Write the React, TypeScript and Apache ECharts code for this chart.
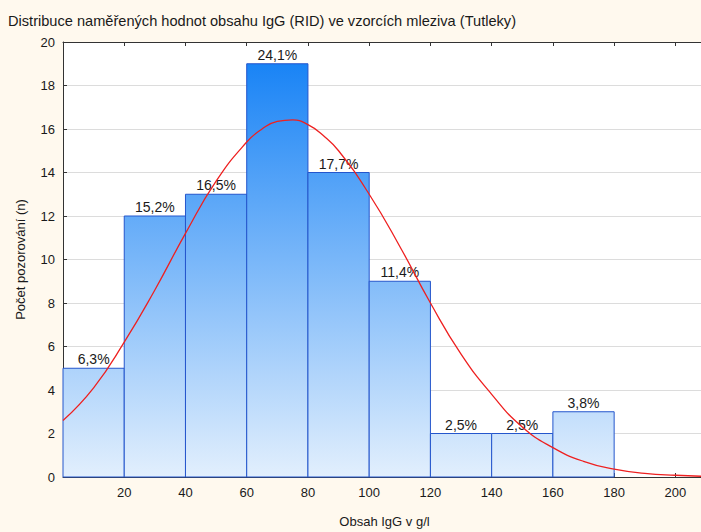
import React, { useEffect, useRef } from "react";
import * as echarts from "echarts";

const titleText = "Distribuce naměřených hodnot obsahu IgG (RID) ve vzorcích mleziva (Tutleky)";
const xTitle = "Obsah IgG v g/l";
const yTitle = "Počet pozorování (n)";

const binStarts = [0, 20, 40, 60, 80, 100, 120, 140, 160];
const binEnds = [20, 40, 60, 80, 100, 120, 140, 160, 180];
const counts = [5, 12, 13, 19, 14, 9, 2, 2, 3];
const percentLabels = ["6,3%", "15,2%", "16,5%", "24,1%", "17,7%", "11,4%", "2,5%", "2,5%", "3,8%"];

const curveX = [0, 10, 20, 30, 40, 50, 60, 65, 70, 75, 80, 85, 90, 100, 110, 120, 130, 140, 150, 160, 170, 180, 190, 200, 210];
const curveY = [2.6, 4.1, 6.2, 8.6, 11.2, 13.6, 15.4, 16.0, 16.35, 16.42, 16.2, 15.7, 15.0, 13.0, 10.6, 8.0, 5.65, 3.8, 2.3, 1.35, 0.72, 0.36, 0.17, 0.08, 0.03];

const FONT = "'Liberation Sans', Arial, sans-serif";

export default function App() {
  const ref = useRef<HTMLDivElement>(null);
  useEffect(() => {
    if (!ref.current) return;
    const chart = echarts.init(ref.current, undefined, { renderer: "svg" });
    const barData = binStarts.map((s, i) => [s, binEnds[i], counts[i], i]);
    const option: any = {
      animation: false,
      backgroundColor: "#fff9ee",
      textStyle: { fontFamily: FONT },
      title: {
        text: titleText,
        left: 8,
        top: 13,
        padding: 0,
        textStyle: { fontFamily: FONT, fontSize: 14.6, fontWeight: "normal", color: "#1a1a1a" },
      },
      grid: {
        left: 63,
        right: 0,
        top: 42,
        bottom: 55,
        show: true,
        backgroundColor: "#ffffff",
        borderWidth: 0,
        outerBoundsMode: "none",
      },
      xAxis: [
        {
          type: "value",
          position: "bottom",
          min: 0,
          max: 210,
          interval: 20,
          name: xTitle,
          nameLocation: "middle",
          nameGap: 38,
          nameTextStyle: { fontFamily: FONT, fontSize: 13, color: "#1a1a1a" },
          axisLine: { show: true, onZero: false, lineStyle: { color: "#333", width: 1 } },
          axisTick: { show: true, inside: true, length: 4, lineStyle: { color: "#333" } },
          axisLabel: {
            fontFamily: FONT,
            fontSize: 13,
            color: "#1a1a1a",
            margin: 9,
            formatter: (v: number) => (v === 0 || v % 20 !== 0 ? "" : String(v)),
          },
          splitLine: { show: false },
        },
        {
          type: "value",
          position: "top",
          min: 0,
          max: 210,
          interval: 20,
          axisLine: { show: true, onZero: false, lineStyle: { color: "#333", width: 1 } },
          axisTick: { show: true, inside: true, length: 4, lineStyle: { color: "#333" } },
          axisLabel: { show: false },
          splitLine: { show: false },
        },
      ],
      yAxis: {
        type: "value",
        min: 0,
        max: 20,
        interval: 2,
        name: yTitle,
        nameLocation: "middle",
        nameGap: 36,
        nameTextStyle: { fontFamily: FONT, fontSize: 13, color: "#1a1a1a" },
        axisLine: { show: true, lineStyle: { color: "#333", width: 1 } },
        axisTick: { show: true, inside: true, length: 4, lineStyle: { color: "#333" } },
        axisLabel: { fontFamily: FONT, fontSize: 13, color: "#1a1a1a", margin: 8 },
        splitLine: { show: true, lineStyle: { color: "#dcdcdc", width: 1 } },
      },
      series: [
        {
          type: "custom",
          xAxisIndex: 0,
          yAxisIndex: 0,
          data: barData,
          encode: { x: [0, 1], y: 2 },
          renderItem: (params: any, api: any) => {
            const s = api.value(0);
            const e = api.value(1);
            const c = api.value(2);
            const idx = api.value(3);
            const p0 = api.coord([s, c]);
            const p1 = api.coord([e, 0]);
            const yTop = api.coord([0, 20])[1];
            const yBot = api.coord([0, 0])[1];
            return {
              type: "group",
              children: [
                {
                  type: "rect",
                  shape: { x: p0[0], y: p0[1], width: p1[0] - p0[0], height: p1[1] - p0[1] },
                  style: {
                    fill: {
                      type: "linear",
                      x: 0,
                      y: yTop,
                      x2: 0,
                      y2: yBot,
                      global: true,
                      colorStops: [
                        { offset: 0, color: "#0f7ef5" },
                        { offset: 1, color: "#e2effd" },
                      ],
                    },
                    stroke: "#2456cc",
                    lineWidth: 1,
                  },
                },
                {
                  type: "text",
                  x: (p0[0] + p1[0]) / 2,
                  y: p0[1] - 2,
                  style: {
                    text: percentLabels[idx],
                    textAlign: "center",
                    textVerticalAlign: "bottom",
                    fontFamily: FONT,
                    fontSize: 14,
                    fill: "#1a1a1a",
                  },
                },
              ],
            };
          },
          z: 2,
        },
        {
          type: "line",
          xAxisIndex: 0,
          data: curveX.map((x, i) => [x, curveY[i]]),
          smooth: true,
          symbol: "none",
          lineStyle: { color: "#ee2020", width: 1.3 },
          z: 3,
        },
      ],
    };
    chart.setOption(option);
    return () => chart.dispose();
  }, []);
  return (
    <div style={{ position: "absolute", left: 0, top: 0, width: 701, height: 532, overflow: "hidden" }}>
      <div ref={ref} style={{ width: 706, height: 532 }} />
    </div>
  );
}
